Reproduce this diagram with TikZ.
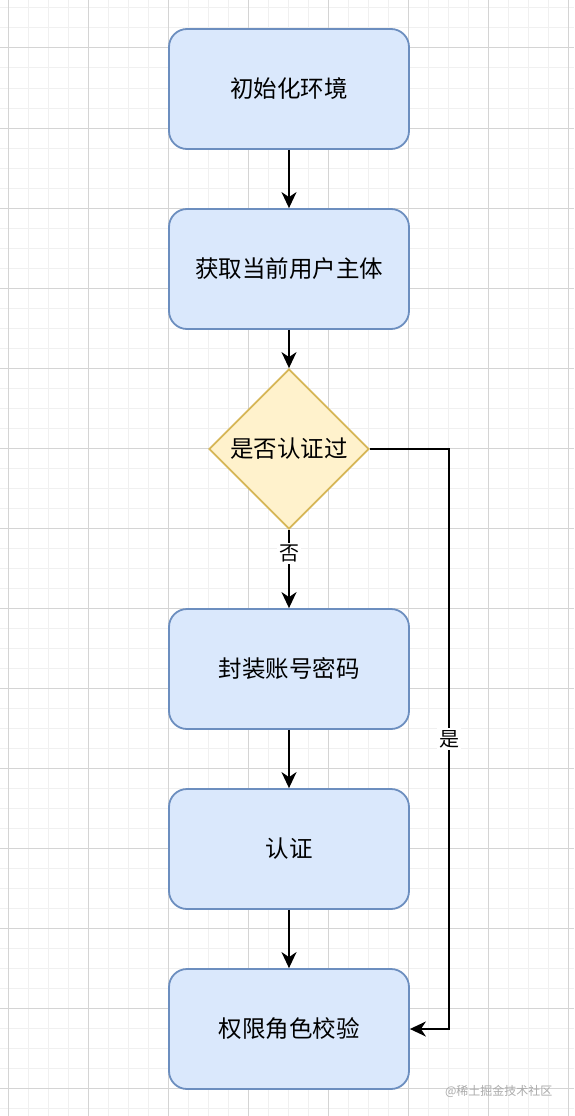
\documentclass[tikz,border=0pt]{standalone}
\usepackage{fontspec}
\setmainfont{Noto Sans CJK SC}
\usetikzlibrary{shapes.geometric,arrows.meta}
\definecolor{boxfill}{HTML}{DAE8FC}
\definecolor{boxline}{HTML}{6C8EBF}
\definecolor{decfill}{HTML}{FFF2CC}
\definecolor{decline}{HTML}{D6B656}
\definecolor{gridminor}{HTML}{F0F0F0}
\definecolor{gridmajor}{HTML}{D4D4D4}
\definecolor{wmark}{HTML}{ABABAB}
\tikzset{
  procbox/.style={draw=boxline, fill=boxfill, line width=1.8pt, rounded corners=18pt,
    minimum width=240pt, minimum height=120pt, inner sep=0pt,
    font=\fontsize{23.5}{28}\selectfont},
  decbox/.style={draw=decline, fill=decfill, line width=1.8pt, shape=diamond, aspect=1,
    minimum width=160pt, minimum height=160pt, inner sep=0pt,
    font=\fontsize{23.5}{28}\selectfont},
  flow/.style={draw=black, line width=2pt, -{Stealth[length=16pt,width=15pt,inset=5pt]}},
  edgelabel/.style={fill=white, inner sep=2pt, font=\fontsize{20}{24}\selectfont},
}
\begin{document}
\begin{tikzpicture}[x=1pt,y=-1pt]
\useasboundingbox (0,0) rectangle (574,1116);
\fill[white] (0,0) rectangle (574,1116);
\foreach \x in {8,28,...,568} \draw[gridminor, line width=1pt] (\x,0) -- (\x,1116);
\foreach \y in {8,28,...,1108} \draw[gridminor, line width=1pt] (0,\y) -- (574,\y);
\foreach \x in {8,88,...,568} \draw[gridmajor, line width=1pt] (\x,0) -- (\x,1116);
\foreach \y in {48,128,...,1088} \draw[gridmajor, line width=1pt] (0,\y) -- (574,\y);

\node[procbox] (init) at (289,89) {初始化环境};
\node[procbox] (subj) at (289,269) {获取当前用户主体};
\node[decbox] (dec) at (289,449) {是否认证过};
\node[procbox] (pack) at (289,669) {封装账号密码};
\node[procbox] (auth) at (289,849) {认证};
\node[procbox] (perm) at (289,1029) {权限角色校验};
\coordinate (c1) at (449,449);
\coordinate (c2) at (449,1029);

\draw[flow] (init) -- (subj);
\draw[flow] (subj) -- (dec);
\draw[flow] (dec) -- node[edgelabel, pos=0.3] {否} (pack);
\draw[flow] (pack) -- (auth);
\draw[flow] (auth) -- (perm);
\draw[flow] (dec.east) -- (c1) -- node[edgelabel, pos=0.5] {是} (c2) -- (perm.east);

\node[text=wmark, font=\fontsize{12}{14}\selectfont, anchor=east] (wm) at (556,1091) {@稀土掘金技术社区};
\end{tikzpicture}
\end{document}
